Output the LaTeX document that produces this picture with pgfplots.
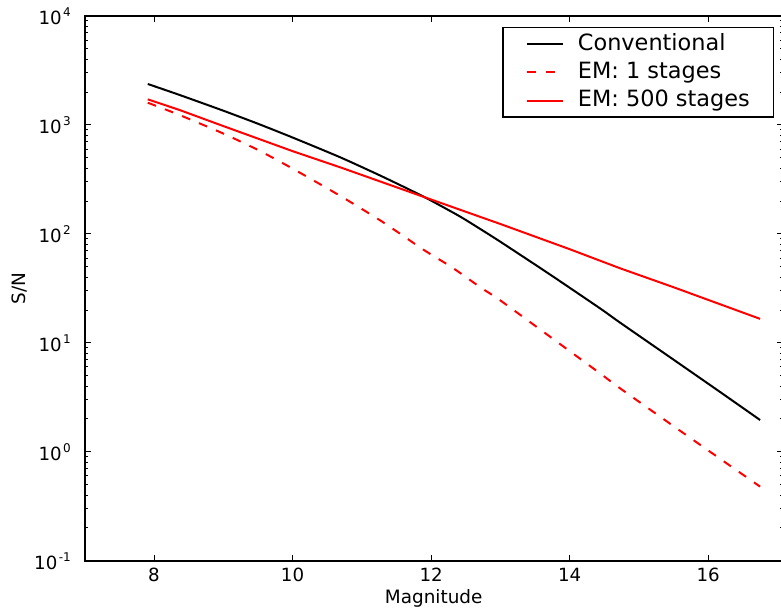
\documentclass[border=0pt]{standalone}
\usepackage{fontspec}
\setmainfont{DejaVu Sans}
\usepackage{pgfplots}
\pgfplotsset{compat=1.18}

% power-of-ten tick label with a small raised exponent
\newcommand{\dec}[1]{10\kern0.7pt\raisebox{3.8pt}{\fontsize{6.0pt}{7pt}\selectfont #1}}

\pgfplotstableread{
mag    sn
7.91   2377
8.37   1884
9.0    1352
9.5    1026
10.0   767
10.69  504
11.3   335
11.89  220
12.4   146.6
12.71  110.9
13.0   84.7
13.7   43.1
14.44  20.7
14.73  15.3
15.5   7.01
16.2   3.44
16.75  1.957
}\conventional

\pgfplotstableread{
mag    sn
7.91   1600
8.37   1233
9.0    834
9.5    590
10.0   398
10.69  223
11.3   128.8
11.89  71.6
12.3   49.4
12.71  32.4
13.0   24.5
13.7   11.6
14.44  5.24
14.73  3.82
15.5   1.72
16.2   0.839
16.75  0.479
}\emone

\pgfplotstableread{
mag    sn
7.91   1718
8.37   1371
9.0    977
10.0   575
10.69  408
11.89  219
13.0   123.3
14.0   72.4
14.73  48.3
15.5   32.4
16.75  16.6
}\emfivehundred

\begin{document}
\begin{tikzpicture}
\path[use as bounding box] (-42.375pt,-25.65pt) rectangle (348.125pt,280.35pt);
\begin{axis}[
  at={(0,0)}, anchor=south west,
  scale only axis,
  width=349.1pt, height=272.35pt,
  xmin=7, xmax=17.08,
  ymode=log, ymin=0.1, ymax=10000,
  axis line style={line width=0.8pt},
  every tick/.style={black, line width=0.5pt},
  major tick length=3pt, minor tick length=1.7pt,
  xtick={8,10,12,14,16},
  xticklabels={8,10,12,14,16},
  ytick={0.1,1,10,100,1000,10000},
  yticklabels={\dec{-1},\dec{0},\dec{1},\dec{2},\dec{3},\dec{4}},
  xticklabel style={font=\fontsize{9.1pt}{11pt}\selectfont, anchor=base, inner sep=0pt, yshift=-10.5pt},
  yticklabel style={font=\fontsize{9.1pt}{11pt}\selectfont, anchor=base east, inner sep=0pt, xshift=-6.8pt, yshift=-4.2pt},
  xlabel={Magnitude},
  ylabel={S/N},
  xlabel style={font=\fontsize{9.2pt}{11pt}\selectfont, at={(axis description cs:0.4998,-0.0782)}, anchor=base, inner sep=0pt},
  ylabel style={font=\fontsize{9.2pt}{11pt}\selectfont, at={(axis description cs:-0.0928,0.5)}, anchor=center, inner sep=0pt},
  legend style={
    at={(axis description cs:0.9875,0.9804)}, anchor=north east,
    draw=black, line width=0.8pt, fill=white,
    font=\fontsize{11.2pt}{13pt}\selectfont,
    inner xsep=4.75pt, inner ysep=1.3pt,
    nodes={inner sep=2pt, text height=8.2pt, text depth=1.9pt},
    row sep=0pt,
  },
  legend cell align=left,
  legend image code/.code={%
    \path[draw=none, fill=none] (-7.5pt,0pt) -- (23.3pt,0pt);
    \draw[#1, line width=1pt] (0pt,0pt) -- (17.8pt,0pt);},
]
\addplot[black, line width=1pt, smooth, tension=0.4] table[x=mag, y=sn] {\conventional};
\addplot[red, line width=1pt, smooth, tension=0.4, dash pattern=on 4.4pt off 4.8pt] table[x=mag, y=sn] {\emone};
\addplot[red, line width=1pt] table[x=mag, y=sn] {\emfivehundred};
\legend{\makebox[91pt][l]{Conventional},\makebox[91pt][l]{EM: 1 stages},\makebox[91pt][l]{EM: 500 stages}}
\end{axis}
\end{tikzpicture}
\end{document}
